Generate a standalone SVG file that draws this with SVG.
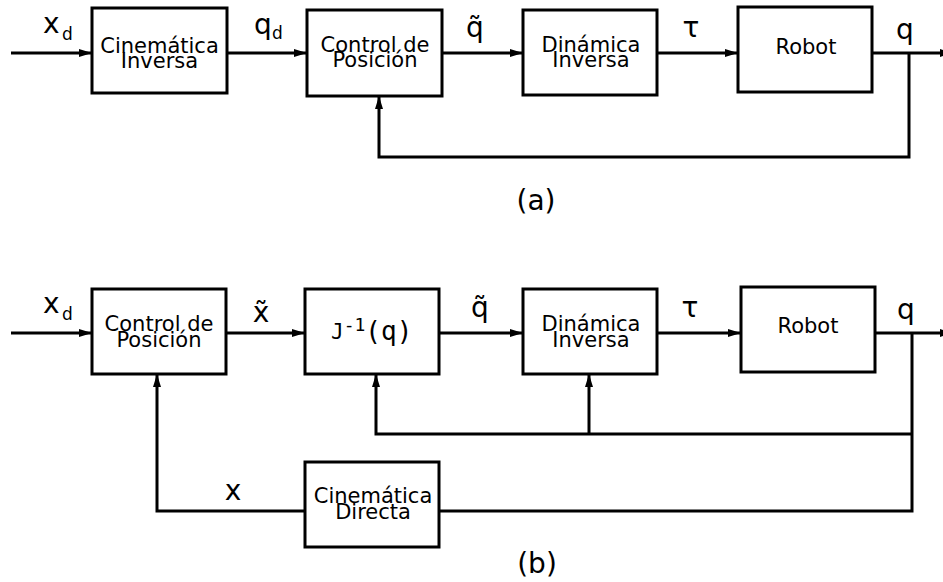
<svg xmlns="http://www.w3.org/2000/svg" width="943" height="582" viewBox="0 0 943 582">
  <style>
    .box { fill: #fff; stroke: #000; stroke-width: 3; }
    .wire { fill: none; stroke: #000; stroke-width: 3; }
    .bt { font-family: "DejaVu Sans", Verdana, sans-serif; font-size: 21px; text-anchor: middle; fill: #000; }
    .lbl { font-family: "DejaVu Sans", Verdana, sans-serif; font-size: 28px; fill: #000; }
    .sub { font-size: 17px; }
    .cap { font-family: "DejaVu Sans", Verdana, sans-serif; font-size: 28px; text-anchor: middle; fill: #000; }
    .mono { font-family: "DejaVu Sans Mono", "Liberation Mono", monospace; fill: #000; }
  </style>
  <defs>
    <marker id="arr" markerUnits="userSpaceOnUse" markerWidth="14" markerHeight="10" refX="13" refY="4" orient="auto">
      <path d="M0,0 L13,4 L0,8 z" fill="#000"/>
    </marker>
  </defs>

  <!-- connectors -->
  <g id="connectors">
    <!-- (a) -->
    <line class="wire" x1="11" y1="53" x2="92" y2="53" marker-end="url(#arr)"/>
    <line class="wire" x1="227" y1="53" x2="307" y2="53" marker-end="url(#arr)"/>
    <line class="wire" x1="442" y1="53" x2="523" y2="53" marker-end="url(#arr)"/>
    <line class="wire" x1="657" y1="53" x2="738" y2="53" marker-end="url(#arr)"/>
    <line class="wire" x1="872" y1="53" x2="953" y2="53" marker-end="url(#arr)"/>
    <polyline class="wire" points="909,53 909,157 379,157 379,96" marker-end="url(#arr)"/>
    <!-- (b) -->
    <line class="wire" x1="11" y1="333" x2="92" y2="333" marker-end="url(#arr)"/>
    <line class="wire" x1="226" y1="333" x2="305" y2="333" marker-end="url(#arr)"/>
    <line class="wire" x1="439" y1="333" x2="523" y2="333" marker-end="url(#arr)"/>
    <line class="wire" x1="657" y1="333" x2="741" y2="333" marker-end="url(#arr)"/>
    <line class="wire" x1="875" y1="333" x2="953" y2="333" marker-end="url(#arr)"/>
    <polyline class="wire" points="912,333 912,511 439,511"/>
    <polyline class="wire" points="912,434 376,434 376,374" marker-end="url(#arr)"/>
    <line class="wire" x1="589" y1="434" x2="589" y2="374" marker-end="url(#arr)"/>
    <polyline class="wire" points="305,511 157,511 157,374" marker-end="url(#arr)"/>
  </g>

  <!-- (a) blocks -->
  <g id="a-cin-inv">
    <rect class="box" x="92" y="8" width="135" height="85"/>
    <text class="bt"><tspan x="159.5" y="53">Cinemática</tspan><tspan x="159.5" y="68">Inversa</tspan></text>
  </g>
  <g id="a-control">
    <rect class="box" x="307" y="10" width="135" height="86"/>
    <text class="bt"><tspan x="375" y="52">Control de</tspan><tspan x="375" y="67">Posición</tspan></text>
  </g>
  <g id="a-din-inv">
    <rect class="box" x="523" y="10" width="134" height="85"/>
    <text class="bt"><tspan x="591" y="52">Dinámica</tspan><tspan x="591" y="67">Inversa</tspan></text>
  </g>
  <g id="a-robot">
    <rect class="box" x="738" y="7" width="134" height="85"/>
    <text class="bt" x="806" y="54">Robot</text>
  </g>

  <!-- (a) signal labels -->
  <g id="a-labels">
    <text class="lbl" x="43" y="33" font-size="30">x<tspan class="sub" x="62" y="40">d</tspan></text>
    <text class="lbl" x="254" y="34">q<tspan class="sub" x="272" y="39">d</tspan></text>
    <text class="lbl" x="475" y="37" text-anchor="middle">q̃</text>
    <text class="lbl" x="691" y="37" text-anchor="middle" font-size="30">τ</text>
    <text class="lbl" x="905" y="39" text-anchor="middle">q</text>
    <text class="cap" x="536" y="210">(a)</text>
  </g>

  <!-- (b) blocks -->
  <g id="b-control">
    <rect class="box" x="92" y="289" width="134" height="85"/>
    <text class="bt"><tspan x="159" y="331">Control de</tspan><tspan x="159" y="347">Posición</tspan></text>
  </g>
  <g id="b-jinv">
    <rect class="box" x="305" y="289" width="134" height="85"/>
    <text class="mono" x="331" y="339" font-size="21">J<tspan font-size="18" y="331">-1</tspan><tspan font-size="26" y="340">(q)</tspan></text>
  </g>
  <g id="b-din-inv">
    <rect class="box" x="523" y="289" width="134" height="85"/>
    <text class="bt"><tspan x="591" y="331">Dinámica</tspan><tspan x="591" y="347">Inversa</tspan></text>
  </g>
  <g id="b-robot">
    <rect class="box" x="741" y="287" width="134" height="85"/>
    <text class="bt" x="808" y="333">Robot</text>
  </g>
  <g id="b-cin-dir">
    <rect class="box" x="305" y="462" width="134" height="85"/>
    <text class="bt"><tspan x="373" y="503">Cinemática</tspan><tspan x="373" y="519">Directa</tspan></text>
  </g>

  <!-- (b) signal labels -->
  <g id="b-labels">
    <text class="lbl" x="43" y="313" font-size="30">x<tspan class="sub" x="62" y="320">d</tspan></text>
    <text class="lbl" x="261" y="322" text-anchor="middle" font-size="30">x̃</text>
    <text class="lbl" x="480" y="317" text-anchor="middle">q̃</text>
    <text class="lbl" x="690" y="317" text-anchor="middle" font-size="30">τ</text>
    <text class="lbl" x="906" y="319" text-anchor="middle">q</text>
    <text class="lbl" x="233" y="500" text-anchor="middle" font-size="30">x</text>
    <text class="cap" x="537" y="573">(b)</text>
  </g>
</svg>
